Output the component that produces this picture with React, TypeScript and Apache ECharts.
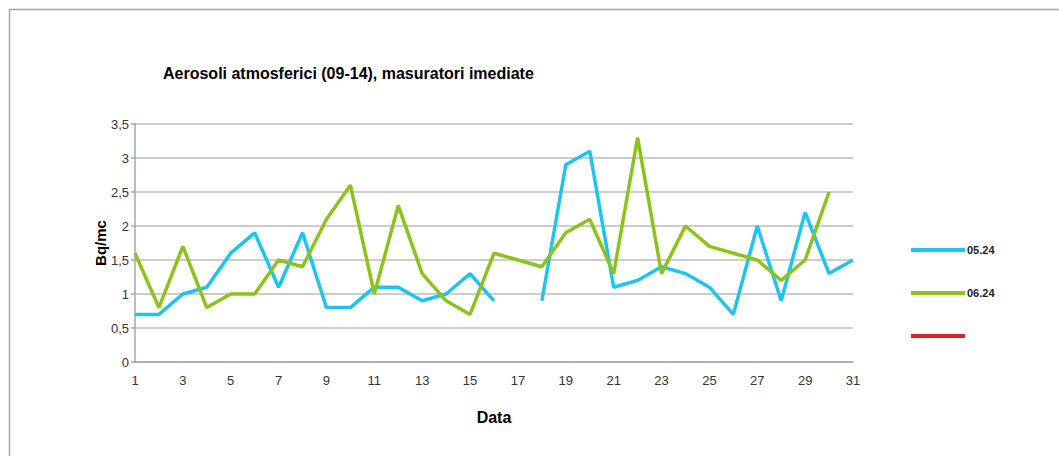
import React, { useEffect, useRef } from "react";
import * as echarts from "echarts";

const categories = Array.from({ length: 31 }, (_, i) => String(i + 1));
const series0524: (number | null)[] = [
  0.7, 0.7, 1.0, 1.1, 1.6, 1.9, 1.1, 1.9, 0.8, 0.8,
  1.1, 1.1, 0.9, 1.0, 1.3, 0.9, null, 0.9, 2.9, 3.1,
  1.1, 1.2, 1.4, 1.3, 1.1, 0.7, 2.0, 0.9, 2.2, 1.3, 1.5,
];
const series0624: (number | null)[] = [
  1.6, 0.8, 1.7, 0.8, 1.0, 1.0, 1.5, 1.4, 2.1, 2.6,
  1.0, 2.3, 1.3, 0.9, 0.7, 1.6, 1.5, 1.4, 1.9, 2.1,
  1.3, 3.3, 1.3, 2.0, 1.7, 1.6, 1.5, 1.2, 1.5, 2.5, null,
];
const seriesEmpty: (number | null)[] = categories.map(() => null);
const seriesNames = ["05.24", "06.24", "__empty__"];

export default function App() {
  const ref = useRef<HTMLDivElement>(null);
  useEffect(() => {
    if (!ref.current) return;
    const chart = echarts.init(ref.current, undefined, { renderer: "svg" });
    const font = "Arial, 'Liberation Sans', sans-serif";
    chart.setOption({
      animation: false,
      backgroundColor: "#ffffff",
      title: {
        text: "Aerosoli atmosferici (09-14), masuratori imediate",
        left: 158,
        top: 60,
        textStyle: { fontFamily: font, fontSize: 16, fontWeight: "bold", color: "#000" },
      },
      graphic: [
        {
          type: "rect",
          shape: { x: 9.5, y: 9.5, width: 1100, height: 500 },
          style: { fill: "none", stroke: "#a6a6a6", lineWidth: 1.5 },
          silent: true,
        },
      ],
      legend: {
        orient: "vertical",
        left: 906,
        top: 238,
        icon: "rect",
        itemWidth: 54,
        itemHeight: 4,
        itemGap: 29,
        data: seriesNames,
        formatter: (n: string) => (n === "__empty__" ? "\u00a0" : n),
        textStyle: { fontFamily: font, fontSize: 11, fontWeight: "bold", color: "#222", lineHeight: 14, padding: [0, 0, 0, -3] },
      },
      grid: { left: 135, right: 206, top: 124, bottom: 94, containLabel: false },
      xAxis: {
        type: "category",
        data: categories,
        boundaryGap: false,
        name: "Data",
        nameLocation: "middle",
        nameGap: 47,
        nameTextStyle: { fontFamily: font, fontSize: 16, fontWeight: "bold", color: "#000" },
        axisLine: { show: true, lineStyle: { color: "#a6a6a6", width: 1.5 } },
        axisTick: { show: false },
        axisLabel: { interval: 1, fontFamily: font, fontSize: 13, color: "#333", margin: 12 },
        splitLine: { show: false },
      },
      yAxis: {
        type: "value",
        min: 0,
        max: 3.5,
        interval: 0.5,
        name: "Bq/mc",
        nameLocation: "middle",
        nameGap: 27,
        nameMoveOverlap: false,
        nameRotate: 90,
        nameTextStyle: { fontFamily: font, fontSize: 15, fontWeight: "bold", color: "#000" },
        axisLine: { show: true, lineStyle: { color: "#a6a6a6", width: 1.5 } },
        axisTick: { show: true, length: 4, lineStyle: { color: "#a6a6a6", width: 1.5 } },
        axisLabel: {
          fontFamily: font,
          fontSize: 13,
          color: "#333",
          margin: 6,
          formatter: (v: number) => String(v).replace(".", ","),
        },
        splitLine: { show: true, lineStyle: { color: "#bdbdbd", width: 1.5 } },
      },
      series: [
        {
          name: seriesNames[0],
          type: "line",
          data: series0524,
          symbol: "none",
          connectNulls: false,
          lineStyle: { width: 3.5, color: "#1fc3ee" },
          itemStyle: { color: "#1fc3ee" },
        },
        {
          name: seriesNames[1],
          type: "line",
          data: series0624,
          symbol: "none",
          lineStyle: { width: 3.5, color: "#8dc21c" },
          itemStyle: { color: "#8dc21c" },
        },
        {
          name: seriesNames[2],
          type: "line",
          data: seriesEmpty,
          symbol: "none",
          lineStyle: { width: 3.5, color: "#d9222a" },
          itemStyle: { color: "#d9222a" },
        },
      ],
    });
    return () => chart.dispose();
  }, []);
  return (
    <div
      ref={ref}
      style={{ position: "absolute", left: 0, top: 0, width: 1059, height: 456 }}
    />
  );
}
